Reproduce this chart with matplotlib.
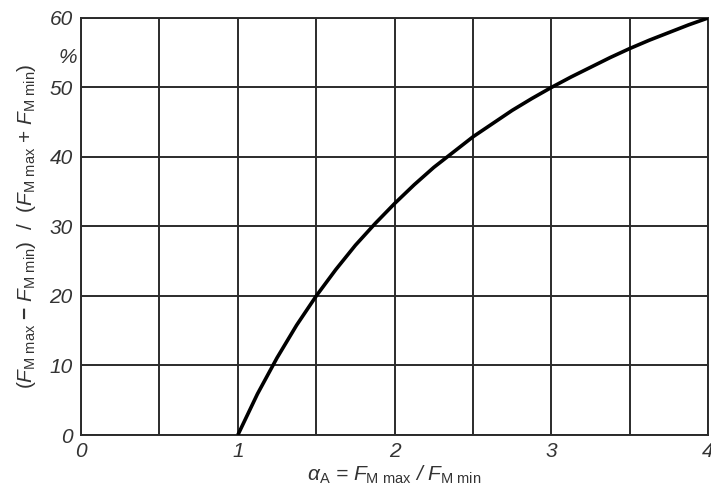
import matplotlib
matplotlib.use("Agg")
import matplotlib.pyplot as plt

# ratio alpha_A = F_M max / F_M min  and the relative scatter in percent
alpha_a = [1.0, 1.125, 1.25, 1.375, 1.5, 1.625, 1.75, 1.875, 2.0, 2.125, 2.25,
           2.375, 2.5, 2.625, 2.75, 2.875, 3.0, 3.125, 3.25, 3.375, 3.5, 3.625,
           3.75, 3.875, 4.0]
scatter_pct = [0.0, 5.9, 11.1, 15.8, 20.0, 23.8, 27.3, 30.4, 33.3, 36.0, 38.5,
               40.7, 42.9, 44.8, 46.7, 48.4, 50.0, 51.5, 52.9, 54.3, 55.6, 56.8,
               57.9, 59.0, 60.0]

x_ticks = [0, 1, 2, 3, 4]
y_ticks = [0, 10, 20, 30, 40, 50, 60]

plt.rcParams["font.family"] = ["Liberation Sans", "DejaVu Sans"]
plt.rcParams["mathtext.fontset"] = "custom"
plt.rcParams["mathtext.rm"] = "Liberation Sans"
plt.rcParams["mathtext.it"] = "Liberation Sans:italic"
plt.rcParams["mathtext.bf"] = "Liberation Sans:bold"

ink = "#2b2b2b"
txt = "#333333"
fig = plt.figure(figsize=(7.11, 4.98), dpi=100)
ax = fig.add_axes([0.114, 0.1265, 0.882, 0.8375])

ax.plot(alpha_a, scatter_pct, color="black", lw=2.6, solid_capstyle="butt", zorder=3)

ax.set_xlim(0, 4)
ax.set_ylim(0, 60)
half_steps = [i * 0.5 for i in range(9)]
ax.set_xticks(half_steps)
ax.set_xticklabels([str(int(t)) if t in x_ticks else "" for t in half_steps])
ax.set_yticks(y_ticks)
ax.set_yticklabels([str(t) for t in y_ticks])
ax.grid(True, color=ink, lw=1.4)
ax.set_axisbelow(True)
for sp in ax.spines.values():
    sp.set_color(ink)
    sp.set_linewidth(1.4)

ax.tick_params(length=0, labelsize=15, labelcolor=txt)
ax.tick_params(axis="x", pad=5)
ax.tick_params(axis="y", pad=6)
for lab in ax.get_xticklabels() + ax.get_yticklabels():
    lab.set_fontstyle("italic")

ax.text(-0.085, 54.3, "%", fontsize=15, color=txt, ha="center", va="center",
        fontstyle="italic")

# plain-text alpha so it follows the italic font style
ax.set_xlabel(r"α$_{\rm A}$ = $F_{\rm M\ max}$ / $F_{\rm M\ min}$",
              fontsize=15, color=txt, labelpad=2, fontstyle="italic")
ax.set_ylabel(r"($F_{\rm M\ max}$ $\mathbf{-}$ $F_{\rm M\ min}$)  /  ($F_{\rm M\ max}$ + $F_{\rm M\ min}$)",
              fontsize=15, color=txt, labelpad=8)

fig.savefig("out.png", dpi=100)
